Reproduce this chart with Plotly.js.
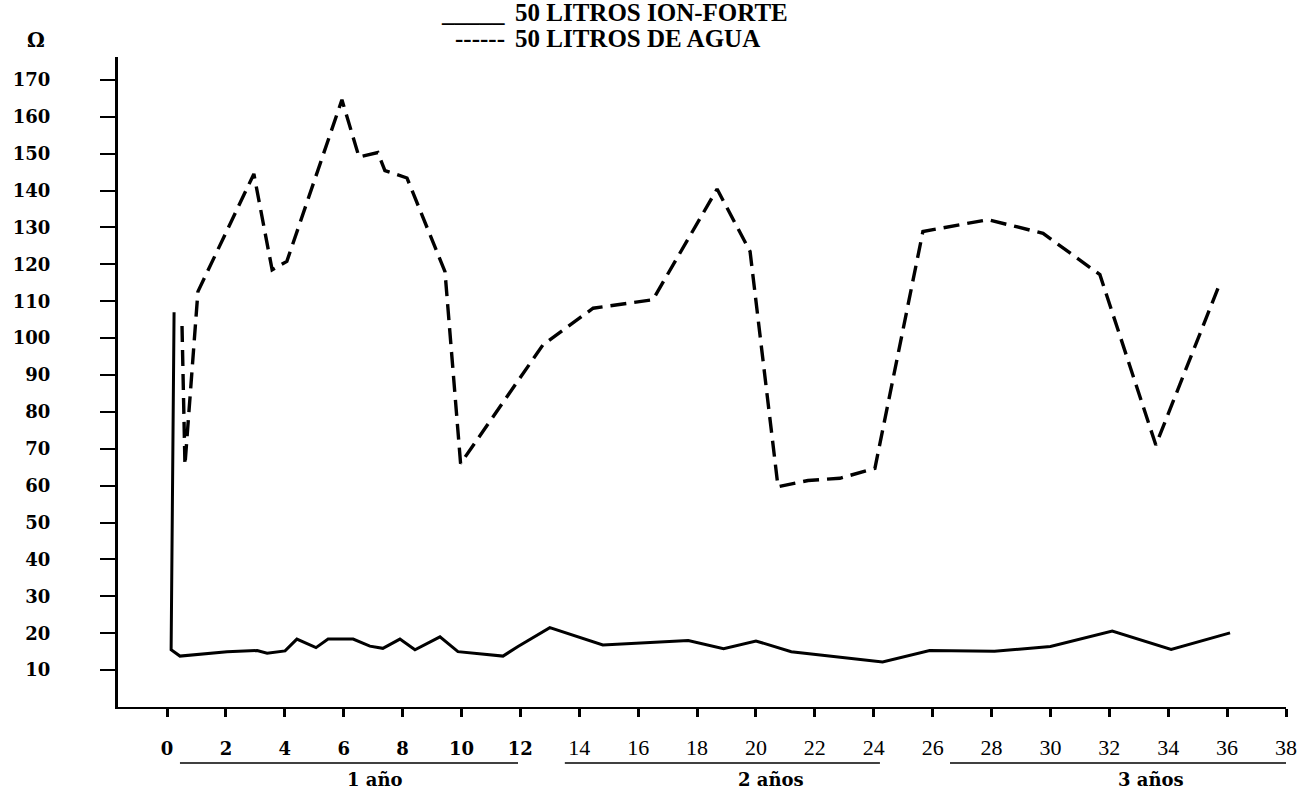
<!DOCTYPE html>
<html><head><meta charset="utf-8">
<script src="https://cdn.plot.ly/plotly-3.0.1.min.js"></script>
<style>html,body{margin:0;padding:0;background:#fff}#chart{width:1308px;height:792px}</style>
</head><body><div id="chart"></div>
<script>
// Months (x) and resistance in ohms (y)
const forteMonths = [0.24,0.14,0.44,2.04,3.06,3.40,4.01,4.41,5.06,5.47,6.32,6.89,7.33,7.91,8.42,9.27,9.88,11.41,11.92,13.0,14.8,17.7,18.9,20.0,21.2,24.3,25.9,28.1,30.0,32.1,34.1,36.1];
const forteOhm = [107,15.5,13.8,15.0,15.3,14.6,15.2,18.4,16.1,18.4,18.4,16.5,15.9,18.4,15.5,19.0,15.0,13.8,16.4,21.5,16.8,18.0,15.8,17.9,15.0,12.2,15.3,15.1,16.4,20.6,15.6,20.1];
const aguaMonths = [0.51,0.61,1.05,2.95,3.57,4.07,5.94,6.52,7.16,7.40,8.15,9.44,9.97,12.77,14.47,16.50,18.68,19.80,20.75,21.77,22.85,24.04,25.67,27.88,29.75,31.68,33.58,35.69];
const aguaOhm = [103.3,65.6,112.6,144.5,118.5,120.8,164.6,149.1,150.3,145.4,143.4,118.0,66.0,98.2,108.1,110.4,140.4,123.5,59.7,61.4,62.0,64.7,128.9,132.1,128.4,117.2,71.0,113.5];

const seriesNames = ['50 LITROS ION-FORTE', '50 LITROS DE AGUA'];
const legendMarks = ['_____', '------'];
const xTickVals = [0,2,4,6,8,10,12,14,16,18,20,22,24,26,28,30,32,34,36,38];
const xTickLabels = ['0','2','4','6','8','10','12','14','16','18','20','22','24','26','28','30','32','34','36','38'];
const yTickVals = [10,20,30,40,50,60,70,80,90,100,110,120,130,140,150,160,170];
const yearLabels = ['1 año','2 años','3 años'];
const yearCenters = [7.06, 20.5, 33.4];
const yearLineStart = [0.44, 13.51, 26.59];
const yearLineEnd = [11.92, 24.21, 38.0];
const unitLabel = 'Ω';

const boldX = new Set(['0','2','4','6','8','10','12']);
const xTickText = xTickLabels.map(t => boldX.has(t)
  ? '<span style="font-family:\'DejaVu Serif\';font-weight:bold;font-size:18px">' + t + '</span>'
  : t);

const traces = [
  {x: forteMonths, y: forteOhm, name: seriesNames[0], mode: 'lines',
   line: {color: '#000', width: 3}, showlegend: false},
  {x: aguaMonths, y: aguaOhm, name: seriesNames[1], mode: 'lines',
   line: {color: '#000', width: 3.4, dash: '16px,8px'}, showlegend: false}
];

const shapes = yearLabels.map((_, i) => ({
  type: 'line', xref: 'x', yref: 'paper',
  x0: yearLineStart[i], x1: yearLineEnd[i], y0: -0.0862, y1: -0.0862,
  line: {color: '#000', width: 1.5}
}));

const annotations = yearLabels.map((t, i) => ({
  text: t, xref: 'x', yref: 'paper', x: yearCenters[i], y: -0.1108,
  xanchor: 'center', yanchor: 'middle', showarrow: false,
  font: {family: 'DejaVu Serif', size: 18, weight: 'bold', color: '#000'}
}));
annotations.push({
  text: unitLabel, xref: 'paper', yref: 'paper', x: -0.0702, y: 1.026,
  xanchor: 'center', yanchor: 'middle', showarrow: false,
  font: {family: 'DejaVu Serif', size: 20, weight: 'bold', color: '#000'}
});
const legendY = [1.0677, 1.0277];
seriesNames.forEach((n, i) => {
  annotations.push({
    text: legendMarks[i], xref: 'paper', yref: 'paper', x: 0.3330, y: legendY[i],
    xanchor: 'right', yanchor: 'middle', showarrow: false,
    font: {family: 'Liberation Serif', size: 25, weight: 'bold', color: '#000'}
  });
  annotations.push({
    text: n, xref: 'paper', yref: 'paper', x: 0.3382, y: legendY[i],
    xanchor: 'left', yanchor: 'middle', showarrow: false,
    font: {family: 'Liberation Serif', size: 25, weight: 'bold', color: '#000'}
  });
});

const layout = {
  width: 1308, height: 792,
  paper_bgcolor: '#fff', plot_bgcolor: '#fff',
  margin: {l: 118, r: 22, t: 57, b: 85},
  showlegend: false,
  xaxis: {
    range: [-1.664, 38], showline: true, linewidth: 2, linecolor: '#000',
    ticks: 'outside', ticklen: 8, tickwidth: 3, tickcolor: '#000',
    tickvals: xTickVals, ticktext: xTickText,
    tickfont: {family: 'Liberation Serif', size: 22, color: '#000'},
    showgrid: false, zeroline: false, ticklabelstandoff: 12
  },
  yaxis: {
    range: [0, 176.2], showline: true, linewidth: 3, linecolor: '#000',
    ticks: 'outside', ticklen: 15, tickwidth: 2, tickcolor: '#000',
    tickvals: yTickVals,
    tickfont: {family: 'DejaVu Serif', size: 18, weight: 'bold', color: '#000'},
    showgrid: false, zeroline: false, ticklabelstandoff: 46
  },
  shapes: shapes,
  annotations: annotations
};

Plotly.newPlot('chart', traces, layout, {displayModeBar: false, staticPlot: true});
</script>
</body></html>
